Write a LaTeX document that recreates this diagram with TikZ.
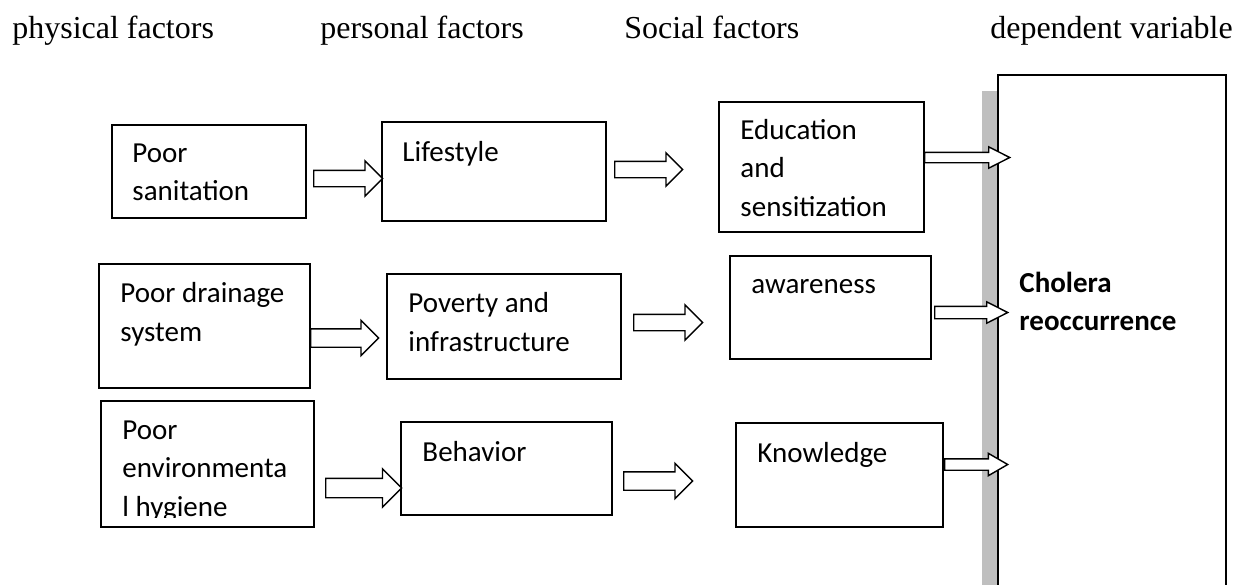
\documentclass[tikz,border=0pt]{standalone}
\usepackage{fontspec}
\setmainfont{Liberation Serif}
\newfontfamily\carlito{Carlito}
\usetikzlibrary{shapes.arrows,calc}
\tikzset{
  box/.style={draw, line width=1pt, fill=white, inner sep=0pt},
  % placed on the baseline of the last line
  txt/.style={anchor=base west, inner sep=0pt, align=left, font=\carlito\fontsize{16.5}{21.9}\selectfont},
  head/.style={anchor=base west, inner sep=0pt, font=\fontsize{18.2}{22}\selectfont},
  barrow/.style={single arrow, draw, fill=white, line width=0.8pt, anchor=tail, inner xsep=0pt, single arrow tip angle=90},
}
\begin{document}
\begin{tikzpicture}
  \useasboundingbox (0,0) rectangle (24.76,-11.68);
  % column headings
  \node[head] (hphys) at (0.24,-0.76)  {physical factors};
  \node[head] (hpers) at (6.40,-0.76)  {personal factors};
  \node[head] (hsoc)  at (12.48,-0.76) {Social factors};
  \node[head] (hdep)  at (19.80,-0.76) {dependent variable};
  % dependent variable with its grey edge
  \fill[black!25] (19.64,-1.82) rectangle (19.94,-12.0);
  \node[box, minimum width=4.56cm, minimum height=10.68cm] (chol) at (22.24,-6.84) {};
  \node[txt, font=\carlito\bfseries\fontsize{16.5}{21.9}\selectfont] (chol-t) at ($(chol.north west)+(0.44,-5.13)$) {Cholera\\reoccurrence};
  % physical factors
  \node[box, minimum width=3.88cm, minimum height=1.86cm] (san)   at (4.18,-3.43) {};
  \node[box, minimum width=4.22cm, minimum height=2.48cm] (drain) at (4.09,-6.52) {};
  \node[box, minimum width=4.26cm, minimum height=2.52cm] (env)   at (4.15,-9.28) {};
  \node[txt] (san-t)   at ($(san.north west)+(0.42,-1.53)$)   {Poor\\sanitation};
  \node[txt] (drain-t) at ($(drain.north west)+(0.44,-1.56)$) {Poor drainage\\system};
  \begin{scope}
    \clip (env.north west) rectangle ($(env.south east)+(0,0.21)$);
    \node[txt] (env-t) at ($(env.north west)+(0.44,-2.32)$) {Poor\\environmenta\\l hygiene};
  \end{scope}
  % personal factors
  \node[box, minimum width=4.48cm, minimum height=1.98cm] (life) at (9.88,-3.43) {};
  \node[box, minimum width=4.68cm, minimum height=2.10cm] (pov)  at (10.08,-6.53) {};
  \node[box, minimum width=4.22cm, minimum height=1.86cm] (beh)  at (10.13,-9.37) {};
  \node[txt] (life-t) at ($(life.north west)+(0.42,-0.80)$) {Lifestyle};
  \node[txt] (pov-t)  at ($(pov.north west)+(0.44,-1.56)$)  {Poverty and\\infrastructure};
  \node[txt] (beh-t)  at ($(beh.north west)+(0.44,-0.80)$)  {Behavior};
  % social factors
  \node[box, minimum width=4.10cm, minimum height=2.60cm] (edu)   at (16.43,-3.34) {};
  \node[box, minimum width=4.02cm, minimum height=2.06cm] (aware) at (16.61,-6.15) {};
  \node[box, minimum width=4.14cm, minimum height=2.08cm] (know)  at (16.79,-9.50) {};
  \node[txt] (edu-t)   at ($(edu.north west)+(0.44,-2.30)$)   {Education\\and\\sensitization};
  \node[txt] (aware-t) at ($(aware.north west)+(0.44,-0.76)$) {awareness};
  \node[txt] (know-t)  at ($(know.north west)+(0.44,-0.80)$)  {Knowledge};
  % block arrows
  \node[barrow, minimum height=1.38cm, inner ysep=0.15cm, single arrow head extend=0.19cm] (a1) at (6.26,-3.57) {};
  \node[barrow, minimum height=1.36cm, inner ysep=0.15cm, single arrow head extend=0.17cm] (a2) at (12.28,-3.39) {};
  \node[barrow, minimum height=1.36cm, inner ysep=0.17cm, single arrow head extend=0.17cm] (a3) at (6.20,-6.76) {};
  \node[barrow, minimum height=1.38cm, inner ysep=0.15cm, single arrow head extend=0.19cm] (a4) at (12.66,-6.45) {};
  \node[barrow, minimum height=1.52cm, inner ysep=0.18cm, single arrow head extend=0.19cm] (a5) at (6.50,-9.76) {};
  \node[barrow, minimum height=1.38cm, inner ysep=0.17cm, single arrow head extend=0.17cm] (a6) at (12.46,-9.62) {};
  \node[barrow, minimum height=1.70cm, inner ysep=0.09cm, single arrow head extend=0.11cm, single arrow tip angle=54] (a7) at (18.48,-3.15) {};
  \node[barrow, minimum height=1.46cm, inner ysep=0.11cm, single arrow head extend=0.09cm, single arrow tip angle=54] (a8) at (18.68,-6.25) {};
  \node[barrow, minimum height=1.26cm, inner ysep=0.10cm, single arrow head extend=0.11cm, single arrow tip angle=60] (a9) at (18.88,-9.29) {};
\end{tikzpicture}
\end{document}
